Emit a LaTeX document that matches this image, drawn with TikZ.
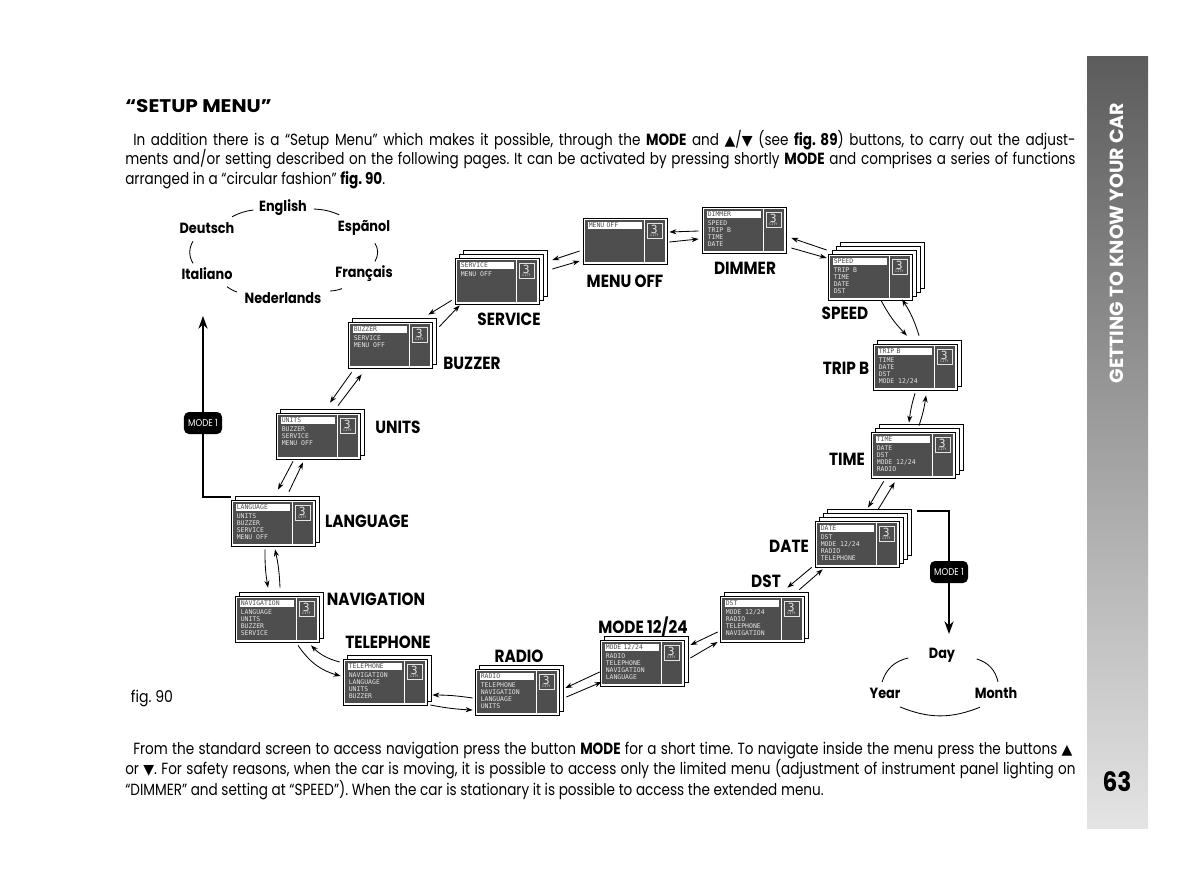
\documentclass[tikz,border=0pt]{standalone}
\usepackage{fontspec}
\setmainfont{Poppins}
\setmonofont{DejaVu Sans Mono}
\newfontfamily\bodyfont{Poppins}[FakeStretch=0.84]
\newfontfamily\headfont{Poppins}[FakeStretch=0.87]
\newfontfamily\widefont{Poppins}[FakeStretch=1.1]
\newfontfamily\symfont{DejaVu Sans}
\usetikzlibrary{arrows.meta,positioning}
\frenchspacing

\definecolor{scrgrey}{RGB}{78,78,78}
\definecolor{scrtext}{RGB}{228,228,228}
\definecolor{bartop}{RGB}{92,92,92}
\definecolor{barbot}{RGB}{228,228,228}

\newcommand\triup{{\symfont\fontsize{10}{10}\selectfont ▲}}
\newcommand\tridown{{\symfont\fontsize{10}{10}\selectfont ▼}}

\tikzset{
  screen/.style={draw=black, fill=white, line width=0.5pt, minimum width=2.1cm, minimum height=1.15cm, inner sep=0pt},
  stackcopy/.style={draw=black, fill=white, line width=0.5pt},
  hlbar/.style={anchor=north west, fill=white, text=scrgrey, font=\ttfamily\fontsize{4.6}{5}\selectfont, text width=1.3cm, inner xsep=0.6pt, inner ysep=0.4pt, text height=3.4pt, text depth=0.6pt},
  menutxt/.style={anchor=north west, text=scrtext, font=\ttfamily\fontsize{4.6}{5}\selectfont, align=left, inner xsep=0.6pt, inner ysep=0.4pt},
  citynum/.style={text=scrtext, font=\ttfamily\fontsize{8}{8}\selectfont, inner sep=0pt},
  citytxt/.style={text=scrtext, font=\ttfamily\fontsize{2.4}{2.4}\selectfont, inner sep=0pt},
  scrlabel/.style={font=\headfont\bfseries\fontsize{12.5}{14}\selectfont, inner sep=1pt},
  ringlbl/.style={font=\headfont\bfseries\fontsize{10.5}{12}\selectfont, inner sep=1pt},
  ring/.style={line width=0.6pt},
  arr/.style={-{Stealth[length=5pt,width=3.6pt]}, line width=0.6pt},
  bigarr/.style={-{Stealth[length=9pt,width=6.5pt]}, line width=1.3pt},
  modeline/.style={line width=1.3pt},
  modebadge/.style={fill=black, rounded corners=3.5pt, text=white, font=\headfont\fontsize{7}{7}\selectfont, minimum width=0.95cm, minimum height=0.55cm, inner sep=0pt},
  bodytxt/.style={anchor=base west, inner sep=0pt, font=\bodyfont\fontsize{11.5}{13}\selectfont},
}

% one display of the menu: name, centre, copies behind, first item, other items
\newcommand\menuscreen[5]{%
  \ifnum#3>0
    \foreach \k in {#3,...,1}{\draw[stackcopy] ([shift={(4*\k-42,-4*\k-23)}]#2) rectangle +(84,46);}
  \fi
  \node[screen] (#1) at (#2) {};
  \fill[scrgrey] ([shift={(2.5,2.5)}]#1.north west) rectangle ([shift={(-2.5,-2.5)}]#1.south east);
  \draw[white, line width=0.7pt] ([shift={(-23,2.5)}]#1.north east) -- ([shift={(-23,-2.5)}]#1.south east);
  \draw[scrtext, line width=0.5pt] ([shift={(-20.5,6)}]#1.north east) rectangle ([shift={(-5.5,21)}]#1.north east);
  \node[citynum] (#1-num) at ([shift={(-13,11.5)}]#1.north east) {3};
  \node[citytxt] (#1-city) at ([shift={(-13,18)}]#1.north east) {CITY};
  \node[hlbar] (#1-hl) at ([shift={(5,4.5)}]#1.north west) {#4};
  \node[menutxt] (#1-menu) at ([yshift=-1]#1-hl.south west) {#5};
}

\begin{document}
\begin{tikzpicture}[x=0.025cm, y=-0.025cm]
\useasboundingbox (0,0) rectangle (1200,886);
\fill[white] (0,0) rectangle (1200,886);

% side bar
\shade[top color=bartop, bottom color=barbot] (1087,57) rectangle (1148,828);
\node[rotate=90, text=white, font=\bfseries\fontsize{13.5}{14}\selectfont] (chapter) at (1117,243) {GETTING TO KNOW YOUR CAR};
\node[font=\headfont\bfseries\fontsize{19}{20}\selectfont] (page) at (1117,782) {63};

% text above
\node[anchor=base west, inner sep=0pt, font=\widefont\bfseries\fontsize{13}{14}\selectfont] (heading) at (125,113) {“SETUP MENU”};
\node[bodytxt] (top1) at (133,145) {\makebox[23.55cm][s]{In addition there is a “Setup Menu” which makes it possible, through the \textbf{MODE} and \triup/\tridown{} (see \textbf{fig. 89}) buttons, to carry out the adjust-}};
\node[bodytxt] (top2) at (125,164) {\makebox[23.75cm][s]{ments and/or setting described on the following pages. It can be activated by pressing shortly \textbf{MODE} and comprises a series of functions}};
\node[bodytxt] (top3) at (125,184) {arranged in a “circular fashion” \textbf{fig. 90}.};

% text below
\node[bodytxt] (bot1) at (133,754) {\makebox[23.475cm][s]{From the standard screen to access navigation press the button \textbf{MODE} for a short time. To navigate inside the menu press the buttons \triup}};
\node[bodytxt] (bot2) at (125,774) {\makebox[23.75cm][s]{or \tridown. For safety reasons, when the car is moving, it is possible to access only the limited menu (adjustment of instrument panel lighting on}};
\node[bodytxt] (bot3) at (125,795) {“DIMMER” and setting at “SPEED”). When the car is stationary it is possible to access the extended menu.};

\node[font=\headfont\fontsize{11.5}{12}\selectfont] (figlabel) at (152,698) {fig. 90};

% the displays
\menuscreen{menuoff}{625,241}{0}{MENU OFF}{}
\menuscreen{dimmer}{744,230}{0}{DIMMER}{SPEED\\TRIP B\\TIME\\DATE}
\menuscreen{speed}{870,277}{3}{SPEED}{TRIP B\\TIME\\DATE\\DST}
\menuscreen{tripb}{915,367}{1}{TRIP B}{TIME\\DATE\\DST\\MODE 12/24}
\menuscreen{time}{913,455}{2}{TIME}{DATE\\DST\\MODE 12/24\\RADIO}
\menuscreen{date}{857,544}{3}{DATE}{DST\\MODE 12/24\\RADIO\\TELEPHONE}
\menuscreen{dst}{762,619}{1}{DST}{MODE 12/24\\RADIO\\TELEPHONE\\NAVIGATION}
\menuscreen{mode}{642,663}{1}{MODE 12/24}{RADIO\\TELEPHONE\\NAVIGATION\\LANGUAGE}
\menuscreen{radio}{517,692}{1}{RADIO}{TELEPHONE\\NAVIGATION\\LANGUAGE\\UNITS}
\menuscreen{telephone}{385,682}{1}{TELEPHONE}{NAVIGATION\\LANGUAGE\\UNITS\\BUZZER}
\menuscreen{navigation}{277,619}{1}{NAVIGATION}{LANGUAGE\\UNITS\\BUZZER\\SERVICE}
\menuscreen{language}{273,523}{1}{LANGUAGE}{UNITS\\BUZZER\\SERVICE\\MENU OFF}
\menuscreen{units}{318,436}{1}{UNITS}{BUZZER\\SERVICE\\MENU OFF}
\menuscreen{buzzer}{390,345}{1}{BUZZER}{SERVICE\\MENU OFF}
\menuscreen{service}{497,281}{2}{SERVICE}{MENU OFF}

% names of the displays
\node[scrlabel] (l-menuoff) at (625,281) {MENU OFF};
\node[scrlabel] (l-dimmer) at (745,268) {DIMMER};
\node[scrlabel] (l-speed) at (845,313) {SPEED};
\node[scrlabel] (l-tripb) at (846,368) {TRIP B};
\node[scrlabel] (l-time) at (847,459) {TIME};
\node[scrlabel] (l-date) at (789,546) {DATE};
\node[scrlabel] (l-dst) at (766,581) {DST};
\node[scrlabel] (l-mode) at (643,627) {MODE 12/24};
\node[scrlabel] (l-radio) at (519,656) {RADIO};
\node[scrlabel] (l-telephone) at (388,642) {TELEPHONE};
\node[scrlabel] (l-navigation) at (376,599) {NAVIGATION};
\node[scrlabel] (l-language) at (367,521) {LANGUAGE};
\node[scrlabel] (l-units) at (398,427) {UNITS};
\node[scrlabel] (l-buzzer) at (472,363) {BUZZER};
\node[scrlabel] (l-service) at (509,319) {SERVICE};

% arrows round the ring
\draw[arr] ([shift={(-3,10)}]menuoff.west) -- ([shift={(13,-21)}]service.east);
\draw[arr] ([shift={(13,-12)}]service.east) -- ([shift={(-3,20)}]menuoff.west);
\draw[arr] ([shift={(-3,1)}]dimmer.west) -- ([shift={(2,-9)}]menuoff.east);
\draw[arr] ([shift={(2,1)}]menuoff.east) -- ([shift={(-3,9)}]dimmer.west);
\draw[arr] ([shift={(-1,-27)}]speed.west) -- ([shift={(5,8)}]dimmer.east);
\draw[arr] ([shift={(5,18)}]dimmer.east) -- ([shift={(-1,-19)}]speed.west);
\draw[arr] ([shift={(11,0)}]speed.south) to[bend right=8] ([shift={(-8,-8)}]tripb.north);
\draw[arr] ([shift={(4,-8)}]tripb.north) to[bend right=8] ([shift={(32,-1)}]speed.south);
\draw[arr] ([shift={(0,3)}]tripb.south) to[bend right=5] ([shift={(-4,-9)}]time.north);
\draw[arr] ([shift={(6,-6)}]time.north) to[bend right=5] ([shift={(11,5)}]tripb.south);
\draw[arr] ([shift={(13,3)}]time.south west) -- ([shift={(11,-13)}]date.north);
\draw[arr] ([shift={(21,-11)}]date.north) -- ([shift={(24,4)}]time.south west);
\draw[arr] ([shift={(-3,0)}]date.south west) -- ([shift={(-17,-8)}]dst.north east);
\draw[arr] ([shift={(-5,-6)}]dst.north east) -- ([shift={(8,2)}]date.south west);
\draw[arr] ([shift={(-2,13)}]dst.west) -- ([shift={(6,-18)}]mode.east);
\draw[arr] ([shift={(6,-5)}]mode.east) -- ([shift={(-2,23)}]dst.west);
\draw[arr] ([shift={(0,9)}]mode.west) -- ([shift={(6,-4)}]radio.east);
\draw[arr] ([shift={(7,5)}]radio.east) -- ([shift={(2,19)}]mode.west);
\draw[arr] ([shift={(-2,6)}]radio.west) to[bend right=4] ([shift={(5,13)}]telephone.east);
\draw[arr] ([shift={(3,23)}]telephone.east) to[bend right=4] ([shift={(-2,18)}]radio.west);
\draw[arr] ([shift={(21,3)}]navigation.south) to[bend right=20] ([shift={(-2,-6)}]telephone.west);
\draw[arr] ([shift={(-3,-20)}]telephone.west) to[bend left=15] ([shift={(34,3)}]navigation.south);
\draw[arr] ([shift={(-8,3)}]language.south) to[bend right=5] ([shift={(-9,-8)}]navigation.north);
\draw[arr] ([shift={(3,-8)}]navigation.north) to[bend right=5] ([shift={(2,3)}]language.south);
\draw[arr] ([shift={(-25,2)}]units.south) -- ([shift={(5,-10)}]language.north);
\draw[arr] ([shift={(16,-8)}]language.north) -- ([shift={(-15,3)}]units.south);
\draw[arr] ([shift={(4,4)}]buzzer.south west) -- ([shift={(12,-10)}]units.north);
\draw[arr] ([shift={(20,-7)}]units.north) -- ([shift={(14,6)}]buzzer.south west);
\draw[arr] ([shift={(-3,-4)}]service.south west) -- ([shift={(-4,-7)}]buzzer.north east);
\draw[arr] ([shift={(7,5)}]buzzer.north east) -- ([shift={(5,1)}]service.south west);

% languages
\node[ringlbl] (english) at (283,208) {English};
\node[ringlbl] (deutsch) at (207,228) {Deutsch};
\node[ringlbl] (espanol) at (364,228) {Espãnol};
\node[ringlbl] (italiano) at (207,274) {Italiano};
\node[ringlbl] (francais) at (364,274) {Français};
\node[ringlbl] (nederlands) at (283,298) {Nederlands};
\draw[ring] ([shift={(-4,2)}]english.west) to[bend right=10] ([shift={(-4,-4)}]deutsch.north east);
\draw[ring] ([shift={(5,1)}]english.east) to[bend left=10] ([shift={(3,-4)}]espanol.north west);
\draw[ring] ([shift={(-14,6)}]deutsch.south) to[bend right=30] ([shift={(-14,-3)}]italiano.north);
\draw[ring] ([shift={(11,6)}]espanol.south) to[bend left=30] ([shift={(11,-3)}]francais.north);
\draw[ring] ([shift={(20,5)}]italiano.south) to[bend right=8] ([shift={(-6,-6)}]nederlands.west);
\draw[ring] ([shift={(7,-7)}]nederlands.east) to[bend right=8] ([shift={(-22,5)}]francais.south);

% date fields
\node[ringlbl] (day) at (942,655) {Day};
\node[ringlbl] (year) at (885,693) {Year};
\node[ringlbl] (month) at (996,693) {Month};
\draw[ring] ([shift={(-19,3)}]day.west) to[bend right=30] ([shift={(-3,-4)}]year.north);
\draw[ring] ([shift={(20,4)}]day.east) to[bend left=30] ([shift={(2,-4)}]month.north);
\draw[ring] ([shift={(15,7)}]year.south) to[bend right=22] ([shift={(-16,7)}]month.south);

% MODE 1 branches
\node[modebadge] (modeL) at (203,423) {MODE 1};
\node[modebadge] (modeR) at (949,572) {MODE 1};
\coordinate (langring) at (203,316);
\coordinate (dayring) at (949,634);
\draw[modeline] ([shift={(0,-3)}]language.north west) -| (modeL);
\draw[bigarr] (modeL) -- (langring);
\draw[modeline] ([shift={(18,-10)}]date.north east) -| (modeR);
\draw[bigarr] (modeR) -- (dayring);
\end{tikzpicture}
\end{document}
